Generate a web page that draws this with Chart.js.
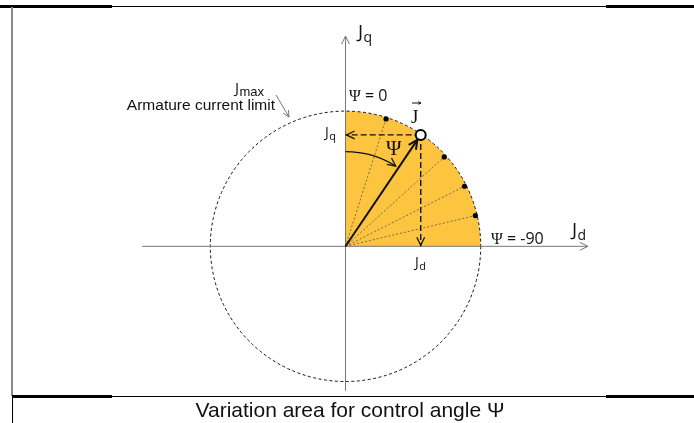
<!DOCTYPE html>
<html>
<head>
<meta charset="utf-8">
<script src="https://cdn.jsdelivr.net/npm/chart.js@4"></script>
<style>
  html, body { margin: 0; padding: 0; background: #fff; }
  canvas { display: block; }
</style>
</head>
<body>
<canvas id="psi-chart" width="694" height="423"></canvas>
<script>
// values in units of Jmax
const jmax = 1;
const axisD = [-1.504, 1.793];      // Jd axis extent
const axisQ = [-1.083, 1.576];      // Jq axis extent
const rayJd = [0.30, 0.73, 0.88, 0.96];
const rayJq = [0.955, 0.67, 0.45, 0.23];
const currentJd = [0.556];
const currentJq = [0.835];
const psiArc = [0.70, 0, 32];       // radius, from, to (deg from q axis)

const fillColor = '#FCC43F';

function arrowHead(ctx, x, y, ang, size, color, width) {
    ctx.save();
    ctx.strokeStyle = color;
    ctx.lineWidth = width;
    ctx.setLineDash([]);
    ctx.beginPath();
    ctx.moveTo(x - size * Math.cos(ang - 0.45), y - size * Math.sin(ang - 0.45));
    ctx.lineTo(x, y);
    ctx.lineTo(x - size * Math.cos(ang + 0.45), y - size * Math.sin(ang + 0.45));
    ctx.stroke();
    ctx.restore();
}

function subText(ctx, main, sub, x, y, mainFont, subFont, drop) {
    ctx.font = mainFont;
    ctx.fillText(main, x, y);
    const w = ctx.measureText(main).width;
    ctx.font = subFont;
    ctx.fillText(sub, x + w + 0.5, y + drop);
}

const diagramPlugin = {
    id: 'diagram',
    beforeDatasetsDraw(chart) {
        const ctx = chart.ctx;
        const sx = chart.scales.x, sy = chart.scales.y;
        const cx = sx.getPixelForValue(0), cy = sy.getPixelForValue(0);
        const r = sx.getPixelForValue(jmax) - cx;
        ctx.save();
        // variation area
        ctx.fillStyle = fillColor;
        ctx.beginPath();
        ctx.moveTo(cx, cy);
        ctx.arc(cx, cy, r, -Math.PI / 2, 0);
        ctx.closePath();
        ctx.fill();
        // current limit circle
        ctx.strokeStyle = '#111';
        ctx.lineWidth = 1;
        ctx.setLineDash([3, 2.5]);
        ctx.beginPath();
        ctx.arc(cx, cy, r, 0, Math.PI * 2);
        ctx.stroke();
        ctx.restore();
    },
    afterDatasetsDraw(chart) {
        const ctx = chart.ctx;
        const sx = chart.scales.x, sy = chart.scales.y;
        const X = v => sx.getPixelForValue(v);
        const Y = v => sy.getPixelForValue(v);
        const cx = X(0), cy = Y(0);
        ctx.save();

        // axis arrows
        arrowHead(ctx, X(axisD[1]), cy, 0, 9, '#777', 1);
        arrowHead(ctx, cx, Y(axisQ[1]), -Math.PI / 2, 9, '#777', 1);

        // projection arrows
        arrowHead(ctx, cx + 1, Y(currentJq[0]), Math.PI, 9, '#111', 1.3);
        arrowHead(ctx, X(currentJd[0]), cy - 1, Math.PI / 2, 9, '#111', 1.3);

        // J vector arrow head
        const jx = X(currentJd[0]), jy = Y(currentJq[0]);
        const va = Math.atan2(jy - cy, jx - cx);
        arrowHead(ctx, jx - 6 * Math.cos(va), jy - 6 * Math.sin(va), va, 10, '#111', 2);

        // psi arc
        const rr = X(psiArc[0]) - cx;
        const a0 = -Math.PI / 2 + psiArc[1] * Math.PI / 180;
        const a1 = -Math.PI / 2 + psiArc[2] * Math.PI / 180;
        ctx.strokeStyle = '#111';
        ctx.lineWidth = 1.3;
        ctx.setLineDash([]);
        ctx.beginPath();
        ctx.arc(cx, cy, rr, a0, a1);
        ctx.stroke();
        const ex = cx + rr * Math.cos(a1), ey = cy + rr * Math.sin(a1);
        arrowHead(ctx, ex, ey, a1 + Math.PI / 2 + 0.08, 9, '#111', 1.3);

        // pointer from label to circle
        ctx.strokeStyle = '#555';
        ctx.lineWidth = 0.8;
        ctx.beginPath();
        ctx.moveTo(276, 95);
        ctx.lineTo(289, 117);
        ctx.stroke();
        arrowHead(ctx, 289, 117, Math.atan2(22, 13), 7, '#555', 0.8);

        // labels
        ctx.fillStyle = '#111';
        ctx.textBaseline = 'alphabetic';
        ctx.textAlign = 'left';
        subText(ctx, 'J', 'q', 358, 38, '19px "Open Sans"', '14px "Open Sans"', 4);
        subText(ctx, 'J', 'd', 572, 236, '19px "Open Sans"', '14px "Open Sans"', 4);
        subText(ctx, 'J', 'q', 325, 137, '14px "Open Sans"', '11px "Open Sans"', 3);
        subText(ctx, 'J', 'd', 415, 267, '14px "Open Sans"', '11px "Open Sans"', 3);
        subText(ctx, 'J', 'max', 235, 93, '15px "Open Sans"', '13px "Liberation Sans"', 3);

        ctx.font = '15.5px "Liberation Sans"';
        ctx.textAlign = 'right';
        ctx.fillText('Armature current limit', 275, 110);
        ctx.textAlign = 'left';

        ctx.font = '16px "Liberation Serif"';
        ctx.fillText('\u03A8', 349, 101);
        let w = ctx.measureText('\u03A8').width;
        ctx.font = '16px "Open Sans"';
        ctx.fillText(' = 0', 349 + w, 101);

        ctx.font = '16px "Liberation Serif"';
        ctx.fillText('\u03A8', 491, 244);
        w = ctx.measureText('\u03A8').width;
        ctx.font = '16px "Open Sans"';
        ctx.fillText(' = -90', 491 + w, 244);

        ctx.font = '21px "Liberation Serif"';
        ctx.fillText('\u03A8', 386, 155);

        // vector label J with arrow
        ctx.font = '19px "Liberation Serif"';
        ctx.fillText('J', 411, 123);
        ctx.strokeStyle = '#111';
        ctx.lineWidth = 1;
        ctx.beginPath();
        ctx.moveTo(412, 103);
        ctx.lineTo(421, 103);
        ctx.stroke();
        arrowHead(ctx, 421, 103, 0, 3, '#111', 1);

        // caption
        ctx.font = '21px "Liberation Sans"';
        ctx.textAlign = 'center';
        ctx.fillText('Variation area for control angle \u03A8', 350, 417);

        // frame
        ctx.fillStyle = '#000';
        ctx.fillRect(0, 6, 694, 1);
        ctx.fillRect(0, 5, 112, 3);
        ctx.fillRect(606, 5, 88, 3);
        ctx.fillStyle = '#8a8a8a';
        ctx.fillRect(11, 7, 2, 389);
        ctx.fillStyle = '#000';
        ctx.fillRect(12, 396, 1, 27);
        ctx.fillRect(12, 396, 682, 1);
        ctx.fillRect(12, 395, 100, 3);
        ctx.fillRect(606, 395, 88, 3);
        ctx.restore();
    }
};

const lineSet = (pts, style) => Object.assign({
    data: pts,
    showLine: true,
    pointRadius: 0,
    fill: false,
    tension: 0
}, style);

const rays = rayJd.map((d, i) => lineSet(
    [{ x: 0, y: 0 }, { x: d, y: rayJq[i] }],
    { borderColor: '#555', borderWidth: 0.8, borderDash: [2, 2], order: 6 }
));

const ctx = document.getElementById('psi-chart').getContext('2d');
new Chart(ctx, {
    type: 'scatter',
    data: {
        datasets: [
            lineSet([{ x: axisD[0], y: 0 }, { x: axisD[1], y: 0 }],
                { borderColor: '#777', borderWidth: 1, order: 7 }),
            lineSet([{ x: 0, y: axisQ[0] }, { x: 0, y: axisQ[1] }],
                { borderColor: '#777', borderWidth: 1, order: 7 }),
            ...rays,
            lineSet([{ x: currentJd[0], y: currentJq[0] }, { x: 0, y: currentJq[0] }],
                { borderColor: '#111', borderWidth: 1.4, borderDash: [6, 3], order: 4 }),
            lineSet([{ x: currentJd[0], y: currentJq[0] }, { x: currentJd[0], y: 0 }],
                { borderColor: '#111', borderWidth: 1.4, borderDash: [6, 3], order: 4 }),
            lineSet([{ x: 0, y: 0 }, { x: currentJd[0], y: currentJq[0] }],
                { borderColor: '#111', borderWidth: 2, order: 3 }),
            {
                data: rayJd.map((d, i) => ({ x: d, y: rayJq[i] })),
                pointRadius: 2.6,
                pointBackgroundColor: '#000',
                pointBorderWidth: 0,
                order: 2
            },
            {
                data: [{ x: currentJd[0], y: currentJq[0] }],
                pointRadius: 5,
                pointBackgroundColor: '#fff',
                pointBorderColor: '#000',
                pointBorderWidth: 2,
                order: 1
            }
        ]
    },
    options: {
        responsive: false,
        animation: false,
        events: [],
        layout: { padding: 0 },
        scales: {
            x: { type: 'linear', display: false, min: -2.5036, max: 2.5254 },
            y: { type: 'linear', display: false, min: -1.2717, max: 1.7935 }
        },
        plugins: {
            legend: { display: false },
            tooltip: { enabled: false }
        }
    },
    plugins: [diagramPlugin]
});
</script>
</body>
</html>
